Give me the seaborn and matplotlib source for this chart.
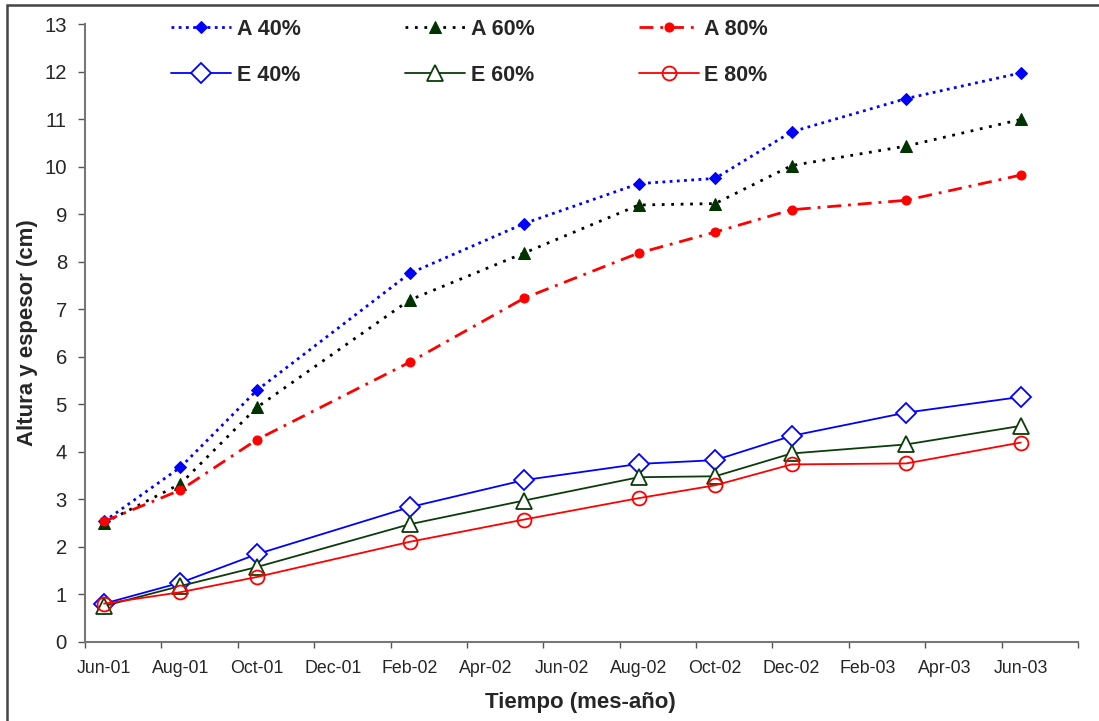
import seaborn as sns
import matplotlib.pyplot as plt
import pandas as pd
from matplotlib.patches import Rectangle

meses = ["2001-06", "2001-08", "2001-10", "2002-02", "2002-05",
         "2002-08", "2002-10", "2002-12", "2003-03", "2003-06"]

a40 = [2.53, 3.67, 5.29, 7.75, 8.80, 9.64, 9.75, 10.73, 11.43, 11.97]
a60 = [2.50, 3.32, 4.93, 7.19, 8.18, 9.19, 9.22, 10.02, 10.43, 10.99]
a80 = [2.53, 3.19, 4.25, 5.88, 7.23, 8.18, 8.62, 9.09, 9.29, 9.82]
e40 = [0.80, 1.24, 1.84, 2.83, 3.40, 3.74, 3.82, 4.33, 4.82, 5.15]
e60 = [0.75, 1.17, 1.57, 2.47, 2.97, 3.46, 3.48, 3.96, 4.15, 4.54]
e80 = [0.80, 1.04, 1.36, 2.10, 2.57, 3.02, 3.29, 3.73, 3.75, 4.19]

etiquetas_x = ["Jun-01", "Aug-01", "Oct-01", "Dec-01", "Feb-02", "Apr-02", "Jun-02",
               "Aug-02", "Oct-02", "Dec-02", "Feb-03", "Apr-03", "Jun-03"]

sns.set_theme(style="white")
plt.rcParams['font.family'] = ['Liberation Sans', 'DejaVu Sans']

# x = months since Jun-01, centred in the month slot (Excel date axis in months)
inicio = pd.Period("2001-06", freq="M")
x = [(pd.Period(m, freq="M") - inicio).n + 0.5 for m in meses]

df = pd.DataFrame({"x": x, "A 40%": a40, "A 60%": a60, "A 80%": a80,
                   "E 40%": e40, "E 60%": e60, "E 80%": e80})

verde = "#0b3d0b"
estilos = {
    "A 40%": dict(color="#0000FF", linestyle=(0, (1, 1.6)), lw=2.0, marker="D", ms=6.5,
                  mfc="#0000FF", mec="#0000FF"),
    "E 40%": dict(color="#0000FF", linestyle="-", lw=1.3, marker="D", ms=10,
                  mfc="white", mec="#0000FF", mew=1.3),
    "A 60%": dict(color="black", linestyle=(0, (1, 2.4)), lw=2.0, marker="^", ms=8,
                  mfc="#003300", mec="#003300"),
    "E 60%": dict(color=verde, linestyle="-", lw=1.3, marker="^", ms=11,
                  mfc="white", mec=verde, mew=1.3),
    "A 80%": dict(color="#FF0000", linestyle=(0, (5, 2.5, 1, 2.5)), lw=2.0, marker="o", ms=6.5,
                  mfc="#FF0000", mec="#FF0000"),
    "E 80%": dict(color="#FF0000", linestyle="-", lw=1.3, marker="o", ms=10,
                  mfc="none", mec="#FF0000", mew=1.3),
}

fig = plt.figure(figsize=(10.99, 7.21), dpi=100)
ax = fig.add_axes([85 / 1099, 1 - 641.6 / 721, 993 / 1099, 617.6 / 721])

for nombre, kw in estilos.items():
    sns.lineplot(data=df, x="x", y=nombre, ax=ax, label=nombre, **kw)

ax.set_xlim(0, 26)
ax.set_ylim(0, 13)
ax.set_yticks(range(0, 14))

# ticks at 2-month boundaries, labels centred in the month slot
ax.set_xticks(range(0, 27, 2))
ax.set_xticklabels([])
ax.set_xticks([i * 2 + 0.5 for i in range(len(etiquetas_x))], minor=True)
ax.set_xticklabels(etiquetas_x, minor=True, fontsize=12.8)
ax.tick_params(axis="x", which="major", direction="out", length=4.5, width=1, color="#555555", bottom=True)
ax.tick_params(axis="x", which="minor", length=0, pad=13.5, bottom=True)
ax.tick_params(axis="y", direction="out", length=5, width=1, color="#555555", labelsize=14.6, pad=8, left=True)

for lado in ["top", "right"]:
    ax.spines[lado].set_visible(False)
for lado in ["left", "bottom"]:
    ax.spines[lado].set_color("#777777")
    ax.spines[lado].set_linewidth(1.5)

ax.set_xlabel("Tiempo (mes-año)", fontsize=16, fontweight="bold")
ax.set_ylabel("Altura y espesor (cm)", fontsize=16, fontweight="bold")
ax.xaxis.set_label_coords(0.4985, -0.082)
ax.yaxis.set_label_coords(-0.047, 0.5)

handles, labels = ax.get_legend_handles_labels()
ax.legend(handles, labels, ncol=3, loc="upper left", frameon=False,
          bbox_to_anchor=(171 / 1099, 1 - 19 / 721), bbox_transform=fig.transFigure,
          prop=dict(weight="bold", size=15.5), handlelength=2.8, handletextpad=0.25,
          columnspacing=4.85, labelspacing=1.15, borderpad=0, borderaxespad=0)

# chart-area border
fig.patches.append(Rectangle((7 / 1099, -0.01), 1.1, 1 - 5 / 721 + 0.01, transform=fig.transFigure,
                             fill=False, edgecolor="#444444", lw=1.8))

fig.savefig("out.png", dpi=100)
